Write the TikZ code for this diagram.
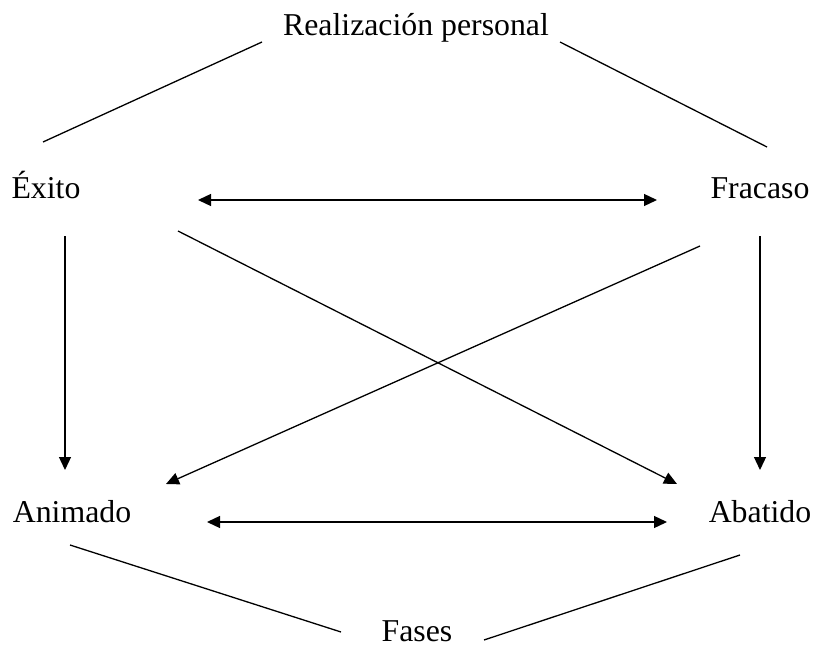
\documentclass[tikz,border=0pt]{standalone}
\usepackage{fontspec}
\setmainfont{Liberation Serif}
\usetikzlibrary{arrows.meta,positioning}

\tikzset{
    phase/.style={inner sep=0pt, anchor=base, font=\fontsize{31.8}{38}\selectfont},
    link/.style={line width=1.3pt},
    flow/.style={line width=1.3pt, -{Triangle[length=13pt,width=12pt]}},
    both/.style={line width=1.3pt, {Triangle[length=13pt,width=12pt]}-{Triangle[length=13pt,width=12pt]}}
}

\begin{document}
\begin{tikzpicture}[x=1pt,y=-1pt]
    \useasboundingbox (0,0) rectangle (814,658);

    % Labels
    \node[phase] (real) at (416,36) {Realización personal};
    \node[phase] (exito) at (46,198) {Éxito};
    \node[phase] (fracaso) at (760,198) {Fracaso};
    \node[phase] (animado) at (72,522) {Animado};
    \node[phase] (abatido) at (760,522) {Abatido};
    \node[phase] (fases) at (417,641) {Fases};

    % Line ends
    \coordinate (real-w) at (262,42);
    \coordinate (real-e) at (560,42);
    \coordinate (exito-n) at (43,142);
    \coordinate (fracaso-n) at (767,147);
    \coordinate (exito-e) at (198,200);
    \coordinate (fracaso-w) at (657,200);
    \coordinate (exito-s) at (65,236);
    \coordinate (fracaso-s) at (760,236);
    \coordinate (exito-se) at (178,231);
    \coordinate (fracaso-sw) at (700,246);
    \coordinate (animado-n) at (65,470);
    \coordinate (abatido-n) at (760,470);
    \coordinate (animado-ne) at (166,484);
    \coordinate (abatido-nw) at (677,484);
    \coordinate (animado-e) at (207,522);
    \coordinate (abatido-w) at (667,522);
    \coordinate (animado-s) at (70,545);
    \coordinate (abatido-s) at (740,555);
    \coordinate (fases-w) at (341,632);
    \coordinate (fases-e) at (484,640);

    % Top
    \draw[link] (real-w) -- (exito-n);
    \draw[link] (real-e) -- (fracaso-n);
    \draw[both] (exito-e) -- (fracaso-w);

    % Middle
    \draw[flow] (exito-s) -- (animado-n);
    \draw[flow] (fracaso-s) -- (abatido-n);
    \draw[flow] (exito-se) -- (abatido-nw);
    \draw[flow] (fracaso-sw) -- (animado-ne);

    % Bottom
    \draw[both] (animado-e) -- (abatido-w);
    \draw[link] (animado-s) -- (fases-w);
    \draw[link] (abatido-s) -- (fases-e);
\end{tikzpicture}
\end{document}
